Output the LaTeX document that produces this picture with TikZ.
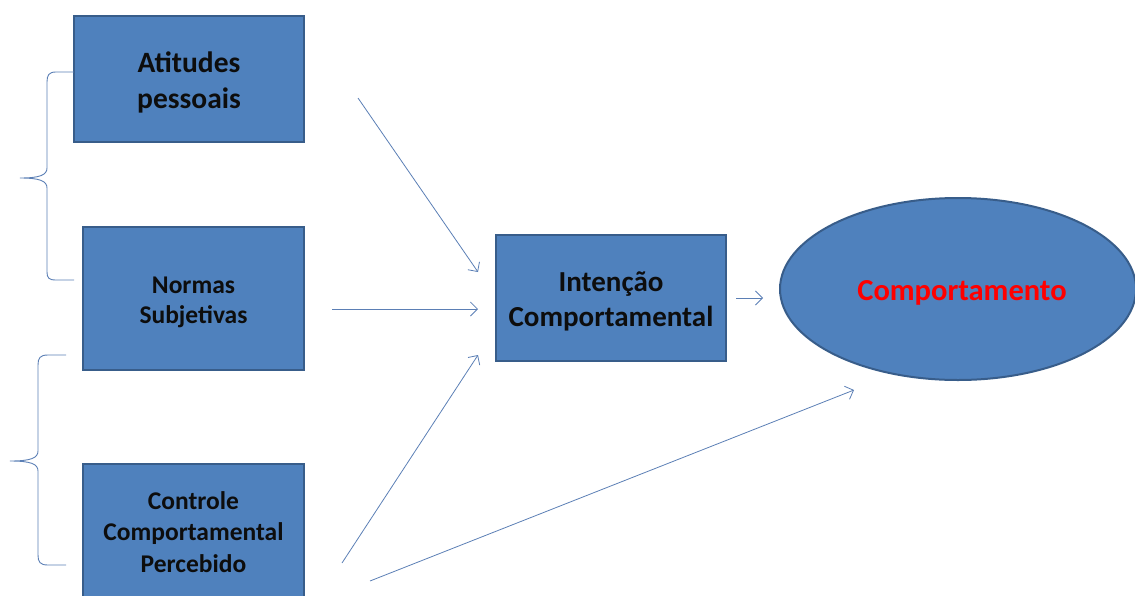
\documentclass[tikz,border=0pt]{standalone}
\usepackage{fontspec}
\setmainfont{Carlito}
\usetikzlibrary{arrows.meta,shapes.geometric}
\definecolor{boxfill}{HTML}{4F81BD}
\definecolor{boxline}{HTML}{385D8A}
\definecolor{linecol}{HTML}{5B7FB5}
\definecolor{redtxt}{HTML}{FF0000}
\definecolor{txt}{HTML}{0D0D0D}
\tikzset{
  box/.style={draw=boxline, line width=2pt, fill=boxfill, inner sep=0pt, align=center, text=txt},
  conn/.style={draw=linecol, line width=0.8pt, -{Straight Barb[length=7pt,width=14pt,line width=0.8pt]}},
  bracestyle/.style={draw=linecol, line width=0.9pt}
}
\begin{document}
\begin{tikzpicture}[x=1pt,y=-1pt]
\useasboundingbox (0,0) rectangle (1135,595);
\clip (0,0) rectangle (1135,595);
% boxes
\node[box, minimum width=230pt, minimum height=126pt] (att) at (189,79) {};
\node[align=center, text=txt, font=\bfseries\fontsize{29.5}{36}\selectfont] (atttxt) at (189,82) {Atitudes\\pessoais};
\node[box, minimum width=221pt, minimum height=143pt] (norm) at (193.5,298.5) {};
\node[align=center, text=txt, font=\bfseries\fontsize{25.5}{30}\selectfont] (normtxt) at (193.5,302) {Normas\\Subjetivas};
\node[box, minimum width=221pt, minimum height=160pt, anchor=north] (ctrl) at (193.5,463) {};
\node[align=center, text=txt, font=\bfseries\fontsize{25.5}{31.5}\selectfont] (ctrltxt) at (193.5,532) {Controle\\Comportamental\\Percebido};
\node[box, minimum width=230pt, minimum height=126pt] (int) at (611,298) {};
\node[align=center, text=txt, font=\bfseries\fontsize{29}{35}\selectfont] (inttxt) at (611,301) {Intenção\\Comportamental};
\node[ellipse, draw=boxline, line width=2pt, fill=boxfill, minimum width=356pt, minimum height=182pt, inner sep=0pt] (comp) at (958,289) {};
\node[font=\bfseries\fontsize{30.5}{36}\selectfont, text=redtxt] (comptxt) at (962,293) {Comportamento};
% arrow endpoints
\coordinate (a1s) at (358,98);  \coordinate (a1e) at (478,272);
\coordinate (a2s) at (332,309); \coordinate (a2e) at (478,309);
\coordinate (a3s) at (342,563); \coordinate (a3e) at (478,355);
\coordinate (a4s) at (736,298); \coordinate (a4e) at (763,298);
\coordinate (a5s) at (370,581); \coordinate (a5e) at (854,390);
\draw[conn] (a1s) -- (a1e);
\draw[conn] (a2s) -- (a2e);
\draw[conn] (a3s) -- (a3e);
\draw[conn] (a4s) -- (a4e);
\draw[conn] (a5s) -- (a5e);
% braces
\draw[bracestyle] (74,72) -- (56,72) .. controls (49,72) and (47,75) .. (47,82) -- (47,168)
  .. controls (47,175) and (40,178) .. (20,178)
  .. controls (40,178) and (47,181) .. (47,188) -- (47,272)
  .. controls (47,278) and (49,280) .. (56,280) -- (74,280);
\draw[bracestyle] (66,355) -- (48,355) .. controls (40,355) and (38,358) .. (38,365) -- (38,451)
  .. controls (38,458) and (31,461) .. (10,461)
  .. controls (31,461) and (38,464) .. (38,471) -- (38,555)
  .. controls (38,562) and (40,565) .. (48,565) -- (66,565);
\end{tikzpicture}
\end{document}
